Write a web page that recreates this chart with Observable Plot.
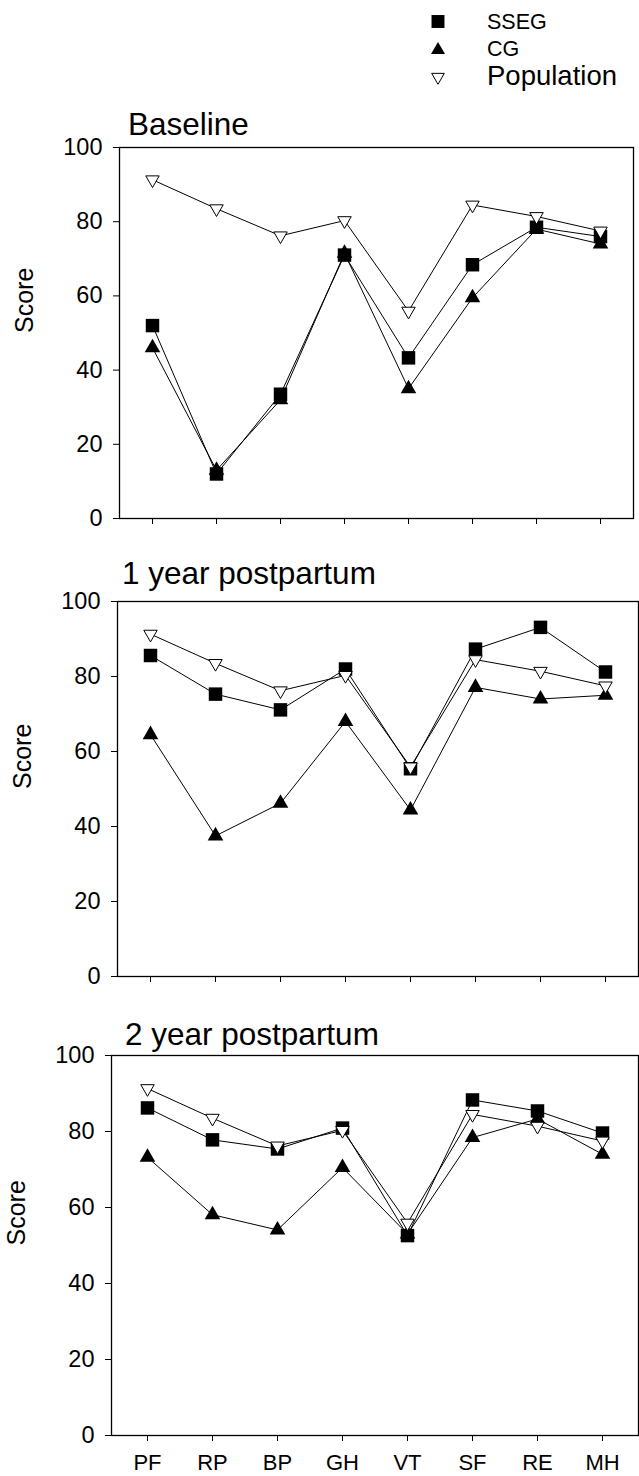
<!DOCTYPE html>
<html><head><meta charset="utf-8">
<script src="https://cdn.jsdelivr.net/npm/d3@7"></script>
<script src="https://cdn.jsdelivr.net/npm/@observablehq/plot@0.6"></script>
<style>
html,body{margin:0;padding:0;background:#fff;}
#page{position:relative;width:639px;height:1476px;overflow:hidden;font-family:"Liberation Sans",Arial,sans-serif;background:#fff;}
</style></head><body><div id="page"></div>
<script>
// ---- data ----
const categories = ["PF", "RP", "BP", "GH", "VT", "SF", "RE", "MH"];
const panelTitles = ["Baseline", "1 year postpartum", "2 year postpartum"];
const seriesNames = ["SSEG", "CG", "Population"];
const yTicks = [0, 20, 40, 60, 80, 100];
const yLabel = "Score";

const ssegBaseline = [52, 12, 33.5, 71, 43.3, 68.4, 78.5, 76];
const cgBaseline   = [46, 13, 32, 71.5, 35, 59.5, 78, 74];
const ssegYear1    = [85.6, 75.3, 71.1, 82, 55.4, 87.3, 93.1, 81.2];
const cgYear1      = [64.5, 37.5, 46.2, 68, 44.4, 77.1, 74, 75];
const ssegYear2    = [86.2, 77.8, 75.4, 80.9, 52.6, 88.3, 85.4, 79.6];
const cgYear2      = [73.2, 58.1, 54.1, 70.5, 53, 78.4, 83.3, 74];
const population   = [91.3, 83.5, 76.2, 80.3, 55.9, 84.5, 81.4, 77.5];

// ---- layout ----
const FONT = '"Liberation Sans", Arial, sans-serif';
const page = document.getElementById("page");
const W = 639;
const rSquare = 7.6, rTri = 5.8, rDown = 5;

const panels = [
  {title: panelTitles[0], sseg: ssegBaseline, cg: cgBaseline, frame: {left: 119, right: 633, top: 147, bottom: 518}, labels: false, titleX: 128, titleY: 135},
  {title: panelTitles[1], sseg: ssegYear1, cg: cgYear1, frame: {left: 117, right: 638, top: 601, bottom: 976}, labels: false, titleX: 122, titleY: 584},
  {title: panelTitles[2], sseg: ssegYear2, cg: cgYear2, frame: {left: 111, right: 638, top: 1055, bottom: 1435}, labels: true, titleX: 125, titleY: 1045}
];

const rows = (arr, series) => categories.map((c, i) => ({category: c, value: arr[i], series}));

panels.forEach(p => {
  const mt = 10, mb = p.labels ? 41 : 50;
  const height = mt + (p.frame.bottom - p.frame.top) + mb;
  const cg = rows(p.cg, seriesNames[1]);
  const sseg = rows(p.sseg, seriesNames[0]);
  const pop = rows(population, seriesNames[2]);
  const chart = Plot.plot({
    width: W, height,
    marginLeft: p.frame.left, marginRight: W - p.frame.right,
    marginTop: mt, marginBottom: mb,
    x: {type: "point", domain: categories, padding: 0.5},
    y: {domain: [0, 100]},
    style: {background: "transparent", color: "black", fontFamily: FONT, fontSize: "23px", overflow: "visible"},
    marks: [
      Plot.frame({stroke: "black", strokeWidth: 1.3}),
      Plot.axisY({ticks: yTicks, tickSize: 6, tickPadding: 11, fontSize: 23.5, label: null, stroke: "black"}),
      Plot.axisX({tickSize: 6, tickPadding: 13, fontSize: 22, label: null, stroke: "black",
                  tickFormat: p.labels ? (d => d) : (() => "")}),
      Plot.text([yLabel], {text: d => d, frameAnchor: "left", dx: -95, rotate: -90, fontSize: 25, fill: "black"}),
      Plot.line(cg, {x: "category", y: "value", stroke: "black", strokeWidth: 1}),
      Plot.dot(cg, {x: "category", y: "value", symbol: "triangle", r: rTri, fill: "black", stroke: "none"}),
      Plot.line(sseg, {x: "category", y: "value", stroke: "black", strokeWidth: 1}),
      Plot.dot(sseg, {x: "category", y: "value", symbol: "square", r: rSquare, fill: "black", stroke: "none"}),
      Plot.line(pop, {x: "category", y: "value", stroke: "black", strokeWidth: 1}),
      Plot.dot(pop, {x: "category", y: "value", symbol: "triangle", rotate: 180, r: rDown, fill: "white", stroke: "black", strokeWidth: 1})
    ]
  });
  chart.style.position = "absolute";
  chart.style.left = "0px";
  chart.style.top = (p.frame.top - mt) + "px";
  page.appendChild(chart);
});

// ---- titles and legend overlay ----
const overlay = d3.create("svg")
  .attr("width", W).attr("height", 1476)
  .style("position", "absolute").style("left", "0px").style("top", "0px")
  .style("pointer-events", "none")
  .attr("font-family", FONT);

panels.forEach(p => {
  overlay.append("text").attr("x", p.titleX).attr("y", p.titleY)
    .attr("font-size", 31.5).attr("fill", "black").text(p.title);
});

const legendItems = [
  {name: seriesNames[0], type: d3.symbolSquare, r: 7.3, fill: "black", stroke: "none", rot: 0, cy: 21.5, ty: 29, fs: 21.5},
  {name: seriesNames[1], type: d3.symbolTriangle, r: 5.2, fill: "black", stroke: "none", rot: 0, cy: 50, ty: 56, fs: 21.5},
  {name: seriesNames[2], type: d3.symbolTriangle, r: 4.7, fill: "white", stroke: "black", rot: 180, cy: 77, ty: 85, fs: 27.5}
];
legendItems.forEach(it => {
  overlay.append("path")
    .attr("d", d3.symbol().type(it.type).size(Math.PI * it.r * it.r)())
    .attr("transform", `translate(438,${it.cy}) rotate(${it.rot})`)
    .attr("fill", it.fill).attr("stroke", it.stroke).attr("stroke-width", 1);
  overlay.append("text").attr("x", 487).attr("y", it.ty)
    .attr("font-size", it.fs).attr("fill", "black").text(it.name);
});
page.appendChild(overlay.node());
</script>
</body></html>
